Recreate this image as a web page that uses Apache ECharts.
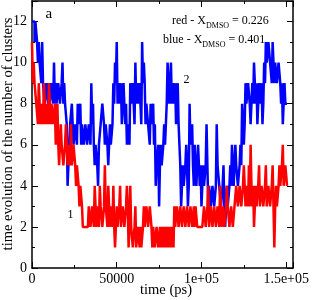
<!DOCTYPE html>
<html>
<head>
<meta charset="utf-8">
<script src="https://cdn.jsdelivr.net/npm/echarts@6/dist/echarts.min.js"></script>
<style>html,body{margin:0;padding:0;background:#fff}#c{width:312px;height:300px}</style>
</head>
<body>
<div id="c"></div>
<script>
// samples are read every 500 ps: "A" arrays at t = i*1000, "B" arrays at t = i*1000 + 500
const binWidth = 1000;
const halfStep = 500;
// number of clusters, X_DMSO = 0.226 (red, curve 1)
const redA = [
 11,10,9, 8,9,7,8,9, 7,8,9,7,8,7, 6,8,5,7, 6,5,7,5, 6,7,5,6, 4,5, 3,4,
 2,2,2,2,3, 2,3,4,2,3,4, 3,2,5,3, 4,2,3,4, 1,3, 2,4,2,3,2,4, 1,4,2,1,
 3,1,2,2, 1,3, 2,3,2,3, 1,2,1, 2, 1,1,2,1,1,2,1,1, 2,3,2,
 3,2,3,2,3,2,3,2,3,2, 2,3,2,2, 2,2, 3,2,4,2, 3,2,3, 2,3,4,2,3,2,
 4,3,2, 3,2,3,4, 3,4,3, 5,3,4,5, 6,3,2, 4,3,5,3, 4,3,5, 3,4,3,
 5,1,4, 3,5,4, 6,4,5
];
const redB = [
 9,9,8, 7,8,8,7,8, 8,7,8,8,7,8, 7,6,6,6, 5,6,6,6, 5,5,6,5, 5,4, 4,3,
 2,2,2,3,2, 3,2,3,3,2,3, 2,3,3,2, 3,3,2,2, 2,2, 3,2,3,2,3,3, 2,2,1,2,
 1,2,1,1, 2,2, 3,2,3,2, 2,1,2, 1, 2,1,1,2,1,1,2,1, 1,2,3,
 2,3,2,3,2,3,2,3,2,3, 3,2,2,2, 2,3, 2,3,2,3, 2,3,2, 3,2,3,3,2,3,
 3,2,3, 2,3,4,3, 4,3,4, 4,4,3,3, 4,4,3, 3,4,3,4, 3,4,3, 4,3,4,
 3,3,3, 4,4,5, 4,5,4
];
// number of clusters, X_DMSO = 0.401 (blue, curve 2)
const blueA = [
 12,12,12,11, 11,10,11, 9,8,9,9,8,9, 10,9, 8,9,8, 10,9, 8,4,5,7,8,
 6,7,8,7, 6,7,6,7,6,7, 9,8, 5,6,4, 6,7,8,6,7,5, 7,6,9,10, 11,9,
 8,7,9,7, 6,7, 9,8,9, 10,9, 8,9, 11,10, 7,8,7, 8,7, 6,4, 5, 3,6,
 5,7,6, 10,8, 10,9,8, 7,9, 6,3, 5,4,6,3, 8,6, 5,6,4, 6,4, 3,5,4, 7,
 3,4,3,4,3, 7,5, 4,3,5,2,4,3,5, 6, 4,6,5,4,6, 8,6,9, 8,9,7,9, 10,
 8,7,9,8, 7,10, 11,10,11, 10,11,9, 10,9,10,8, 7,9,8
];
const blueB = [
 12,11,12,10, 10,9,9, 8,9,8,8,9,8, 8,8, 9,8,9, 8,8, 7,5,7,8,6,
 7,6,7,8, 7,6,7,6,7,6, 7,6, 6,5,6, 7,8,7,7,6,6, 6,7,8,9, 8,8,
 9,8,8,8, 7,6, 8,9,7, 8,8, 9,7, 9,9, 8,7,6, 7,8, 7,5, 6, 5,5,
 6,6,8, 9,9, 8,8,9, 8,7, 5,4, 4,5,5,4, 6,7, 4,5,5, 5,5, 4,4,5, 5,
 4,3,4,3,4, 5,4, 3,4,3,3,3,4,4, 5, 5,5,4,5,5, 7,7,8, 9,8,8,8, 9,
 9,8,8,9, 8,9, 10,11,10, 9,10,10, 9,10,9,9, 8,8,8
];
const xTicks = {0: '0', 50000: '50000', 100000: '1e+05', 150000: '1.5e+05'};
const yTicks = [0, 2, 4, 6, 8, 10, 12];

const FONT = 'Liberation Serif, Times New Roman, serif';
const interleave = (a, b) => {
  const out = [];
  for (let i = 0; i < a.length; i++) {
    out.push([i * binWidth, a[i]]);
    out.push([i * binWidth + halfStep, b[i]]);
  }
  return out;
};

const chart = echarts.init(document.getElementById('c'), null, {renderer: 'canvas'});

const axisLine = {show: true, onZero: false, lineStyle: {color: '#000', width: 1.5}};
const axisTick = {show: true, inside: true, length: 6, lineStyle: {color: '#000', width: 1}};
const minorTick = {show: true, splitNumber: 2, length: 3, lineStyle: {color: '#000', width: 1}};

chart.setOption({
  animation: false,
  backgroundColor: '#fff',
  grid: {left: 32, right: 14, top: 1, bottom: 32, containLabel: false},
  xAxis: [
    {type: 'value', min: 0, max: 154000, interval: 50000, position: 'bottom',
     axisLine, axisTick, minorTick, splitLine: {show: false},
     axisLabel: {show: true, margin: 4, color: '#000', fontSize: 14, fontFamily: FONT,
       formatter: v => (xTicks[v] !== undefined ? xTicks[v] : '')}},
    {type: 'value', min: 0, max: 154000, interval: 50000, position: 'top',
     axisLine, axisTick, minorTick, splitLine: {show: false}, axisLabel: {show: false}}
  ],
  yAxis: [
    {type: 'value', min: 0, max: 13, interval: 2, position: 'left',
     axisLine, axisTick, minorTick, splitLine: {show: false},
     axisLabel: {show: true, margin: 5, color: '#000', fontSize: 14, fontFamily: FONT,
       formatter: v => (yTicks.indexOf(v) >= 0 ? String(v) : '')}},
    {type: 'value', min: 0, max: 13, interval: 2, position: 'right',
     axisLine, axisTick, minorTick, splitLine: {show: false}, axisLabel: {show: false}}
  ],
  series: [
    {type: 'line', name: 'blue', xAxisIndex: 0, yAxisIndex: 0, data: interleave(blueA, blueB),
     step: 'end', showSymbol: false, symbol: 'none', sampling: null,
     lineStyle: {color: '#0000ff', width: 2.5}, itemStyle: {color: '#0000ff'}, z: 2},
    {type: 'line', name: 'red', xAxisIndex: 0, yAxisIndex: 0, data: interleave(redA, redB),
     step: 'end', showSymbol: false, symbol: 'none', sampling: null,
     lineStyle: {color: '#ff0000', width: 2.5}, itemStyle: {color: '#ff0000'}, z: 3}
  ],
  graphic: [
    {type: 'text', x: 45.5, y: 14.5, z: 10, style: {text: 'a', font: '15px ' + FONT, fill: '#000', align: 'left', verticalAlign: 'middle'}},
    {type: 'text', x: 186.5, y: 79.4, z: 10, style: {text: '2', font: '12px ' + FONT, fill: '#000', align: 'center', verticalAlign: 'middle'}},
    {type: 'text', x: 70.5, y: 214.4, z: 10, style: {text: '1', font: '12px ' + FONT, fill: '#000', align: 'center', verticalAlign: 'middle'}},
    {type: 'text', x: 172, y: 10.9, z: 10, style: {
      text: '{m|red - X}{s|DMSO}{m| = 0.226}', align: 'left', verticalAlign: 'top',
      rich: {m: {fontSize: 12, fontFamily: FONT, fill: '#000', lineHeight: 12},
             s: {fontSize: 8, fontFamily: FONT, fill: '#000', lineHeight: 19, verticalAlign: 'bottom'}}}},
    {type: 'text', x: 163, y: 30.2, z: 10, style: {
      text: '{m|blue - X}{s|DMSO}{m| = 0.401}', align: 'left', verticalAlign: 'top',
      rich: {m: {fontSize: 12, fontFamily: FONT, fill: '#000', lineHeight: 12},
             s: {fontSize: 8, fontFamily: FONT, fill: '#000', lineHeight: 19, verticalAlign: 'bottom'}}}},
    {type: 'text', x: 8.5, y: 134, rotation: Math.PI / 2, z: 10, style: {
      text: 'time evolution of the number of clusters', font: '14.5px ' + FONT, fill: '#000',
      align: 'center', verticalAlign: 'middle'}},
    {type: 'text', x: 166, y: 290.6, z: 10, style: {
      text: 'time (ps)', font: '14.5px ' + FONT, fill: '#000', align: 'center', verticalAlign: 'middle'}}
  ]
});
</script>
</body>
</html>
